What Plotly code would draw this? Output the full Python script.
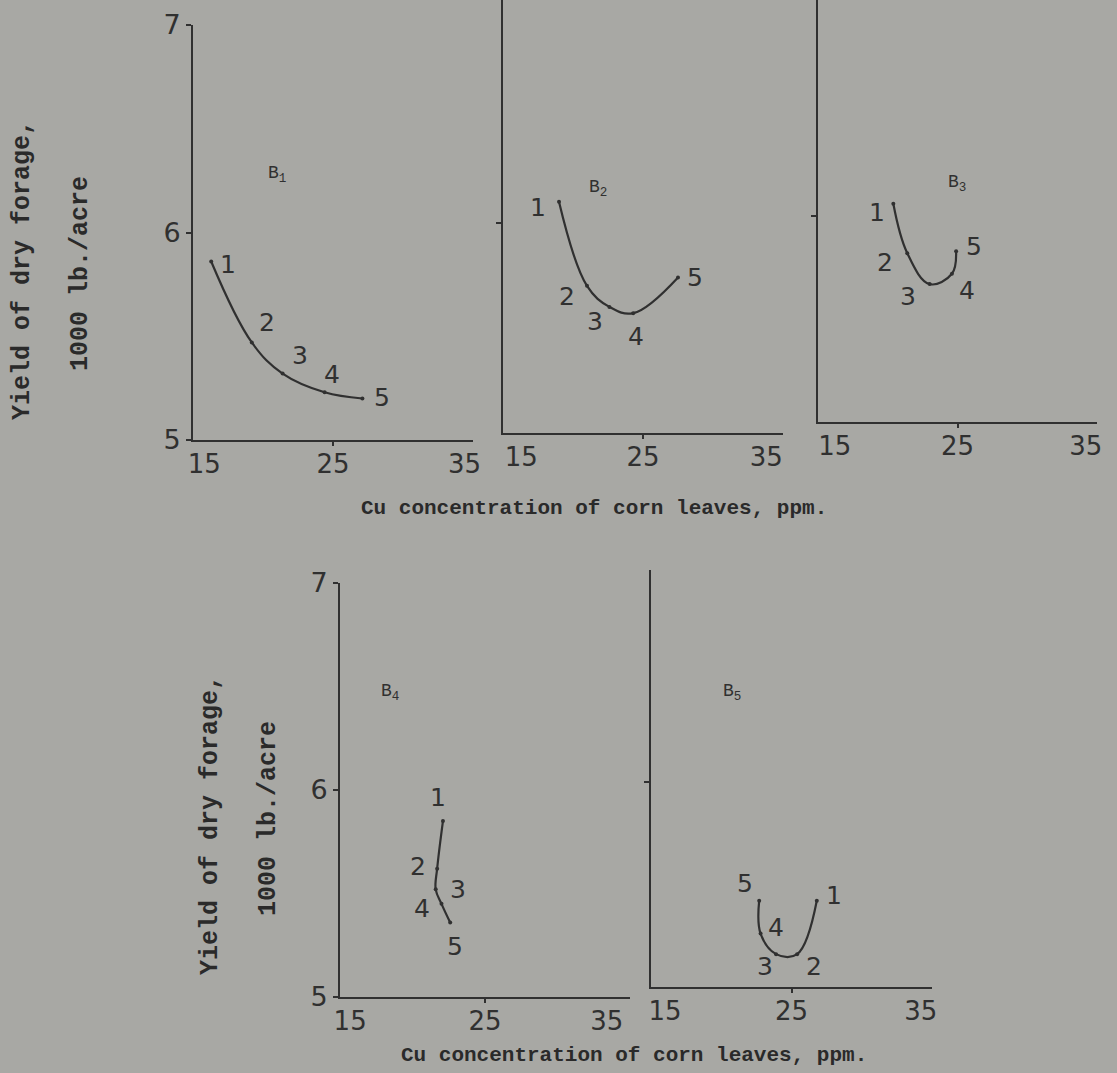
import plotly.graph_objects as go

W, H = 1117, 1073

# ---- data (Cu concentration ppm, yield 1000 lb/acre) ----
panel_names = ["B1", "B2", "B3", "B4", "B5"]
point_labels = ["1", "2", "3", "4", "5"]
b1_cu = [16.3, 19.2, 21.4, 24.4, 27.1]
b1_yield = [5.86, 5.47, 5.32, 5.23, 5.20]
b2_cu = [19.0, 21.0, 22.6, 24.3, 27.5]
b2_yield = [6.10, 5.70, 5.60, 5.57, 5.74]
b3_cu = [20.4, 21.4, 23.0, 24.6, 24.9]
b3_yield = [6.06, 5.82, 5.67, 5.72, 5.83]
b4_cu = [22.1, 21.7, 21.6, 22.0, 22.6]
b4_yield = [5.85, 5.62, 5.52, 5.45, 5.36]
b5_cu = [26.8, 25.4, 23.9, 22.8, 22.7]
b5_yield = [5.42, 5.16, 5.16, 5.26, 5.42]
x_tick_text = ["15", "25", "35"]
y_ticks = [5, 6, 7]
x_title = "Cu concentration of corn leaves, ppm."
y_title_1 = "Yield of dry forage,"
y_title_2 = "1000 lb./acre"

series = [(b1_cu, b1_yield), (b2_cu, b2_yield), (b3_cu, b3_yield),
          (b4_cu, b4_yield), (b5_cu, b5_yield)]

# ---- layout geometry (pixels) ----
# (x_left, x_right, y_bottom, y_top, y_max)
geom = [
    (193, 473, 440, 25, 7.0),
    (503, 783, 433, 0, 7.06),
    (818, 1097, 422, 0, 7.05),
    (340, 630, 997, 583, 7.0),
    (651, 932, 987, 570, 7.03),
]
# hand-lettered x tick labels sit slightly inside the axis ends
x_label_pos = [
    [15.8, 25, 34.4],
    [16.3, 25, 33.8],
    [16.2, 25, 34.2],
    [15.7, 25, 33.4],
    [16.0, 25, 34.2],
]
show_ylabels = [True, False, False, True, False]
# label offsets (xshift, yshift) in px for point numbers
offsets = [
    [(17, -3), (15, 20), (17, 18), (7, 18), (20, 1)],
    [(-21, -6), (-20, -11), (-14, -15), (3, -23), (17, 0)],
    [(-16, -9), (-22, -9), (-22, -12), (15, -17), (18, 5)],
    [(-5, 24), (-19, 2), (22, 0), (-20, -5), (5, -24)],
    [(17, 5), (17, -12), (-11, -12), (15, 6), (-14, 17)],
]
panel_label_px = [(277, 175), (598, 188), (957, 184), (390, 692), (732, 692)]

BG = "#a8a8a4"
INK = "#303030"
HAND = "DejaVu Sans"
TYPE = "Liberation Mono"

def px(x):
    return x / W

def py(y):
    return 1 - y / H

fig = go.Figure()
layout = dict(
    width=W, height=H, margin=dict(l=0, r=0, t=0, b=0, pad=0, autoexpand=False),
    paper_bgcolor=BG, plot_bgcolor=BG, showlegend=False,
)
annotations = []

for i, ((xs, ys), g) in enumerate(zip(series, geom)):
    n = i + 1
    xl, xr, yb, yt, ymax = g
    xa = "xaxis" if n == 1 else f"xaxis{n}"
    ya = "yaxis" if n == 1 else f"yaxis{n}"
    xref = "x" if n == 1 else f"x{n}"
    yref = "y" if n == 1 else f"y{n}"
    layout[xa] = dict(
        domain=[px(xl), px(xr)], range=[15, 35], anchor=yref, automargin=False,
        showline=True, linecolor=INK, linewidth=2, showgrid=False, zeroline=False,
        tickmode="array", tickvals=x_label_pos[i], ticktext=x_tick_text,
        ticks="", ticklen=0,
        minor=dict(tickmode="array", tickvals=[25], ticks="outside", ticklen=4,
                   tickwidth=2, tickcolor=INK, showgrid=False),
        tickfont=dict(family=HAND, size=26, color=INK),
    )
    if show_ylabels[i]:
        yax = dict(tickvals=y_ticks, ticktext=[str(t) for t in y_ticks],
                   showticklabels=True)
    else:
        yax = dict(tickvals=[6], showticklabels=False)
    layout[ya] = dict(
        domain=[py(yb), py(yt)], range=[5, ymax], anchor=xref, automargin=False,
        showline=True, linecolor=INK, linewidth=2, showgrid=False, zeroline=False,
        ticks="outside", ticklen=5, tickwidth=2, tickcolor=INK,
        tickfont=dict(family=HAND, size=27, color=INK),
        **yax,
    )
    fig.add_trace(go.Scatter(
        x=xs, y=ys, xaxis=xref, yaxis=yref, mode="lines+markers",
        line=dict(color=INK, width=2.2, shape="spline", smoothing=1.1),
        marker=dict(size=4, color=INK),
        hoverinfo="skip",
    ))
    for j, (xv, yv) in enumerate(zip(xs, ys)):
        dx, dy = offsets[i][j]
        annotations.append(dict(
            x=xv, y=yv, xref=xref, yref=yref, text=point_labels[j],
            showarrow=False, xshift=dx, yshift=dy,
            xanchor="center", yanchor="middle",
            font=dict(family=HAND, size=25, color=INK),
        ))
    lx, ly = panel_label_px[i]
    name = panel_names[i]
    annotations.append(dict(
        x=px(lx), y=py(ly), xref="paper", yref="paper",
        text=f"{name[0]}<sub>{name[1]}</sub>", showarrow=False,
        xanchor="center", yanchor="middle",
        font=dict(family=TYPE, size=18, color=INK),
    ))

# axis titles
for (cx, cy) in [(594, 508), (634, 1055)]:
    annotations.append(dict(
        x=px(cx), y=py(cy), xref="paper", yref="paper", text=x_title,
        showarrow=False, xanchor="center", yanchor="middle",
        font=dict(family=TYPE, size=21, color="#2a2a2a", weight="bold"),
    ))
for (cx, cy, txt) in [(22, 270, y_title_1), (80, 274, y_title_2),
                      (210, 825, y_title_1), (268, 819, y_title_2)]:
    annotations.append(dict(
        x=px(cx), y=py(cy), xref="paper", yref="paper", text=txt,
        showarrow=False, textangle=-90, xanchor="center", yanchor="middle",
        font=dict(family=TYPE, size=25, color="#2a2a2a", weight="bold"),
    ))

layout["annotations"] = annotations
fig.update_layout(**layout)
fig.write_html("out.html", config={"displayModeBar": False})

# remove default page margin so the figure fills the window exactly
with open("out.html", "r", encoding="utf-8") as f:
    html = f.read()
html = html.replace("<head>", "<head><style>html,body{margin:0;padding:0;overflow:hidden;}</style>", 1)
with open("out.html", "w", encoding="utf-8") as f:
    f.write(html)
